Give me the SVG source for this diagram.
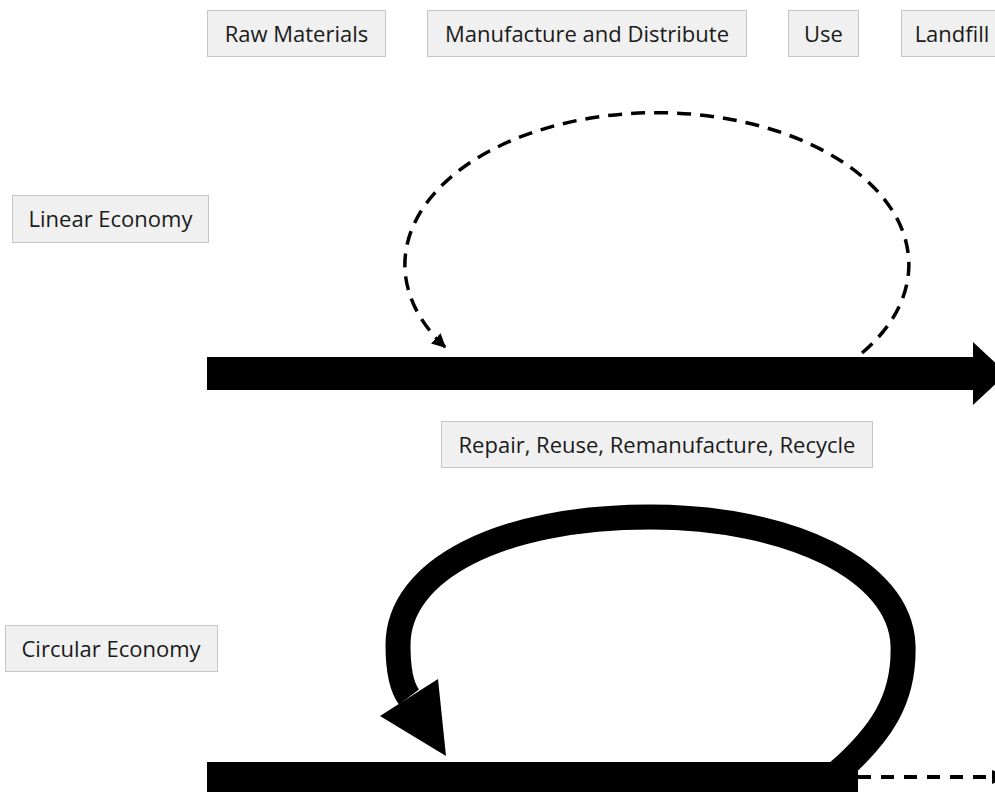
<svg xmlns="http://www.w3.org/2000/svg" width="995" height="792" viewBox="0 0 995 792">
  <style>
    .box rect { fill: #f0f0f0; stroke: #c6c6c6; stroke-width: 1; }
    .box text { font-family: "Open Sans", "Noto Sans", sans-serif; font-size: 22px; fill: #1a1a1a; text-anchor: middle; }
    .dash { fill: none; stroke: #000; stroke-width: 3.5; stroke-dasharray: 14 9; }
  </style>
  <defs>
    <marker id="smallHead" viewBox="0 0 10 10" refX="9" refY="5" markerWidth="4" markerHeight="4" markerUnits="strokeWidth" orient="auto">
      <path d="M0,0 L10,5 L0,10 Z" fill="#000"/>
    </marker>
  </defs>

  <rect width="995" height="792" fill="#fff"/>

  <!-- stage headers -->
  <g id="raw-materials" class="box">
    <rect x="207.5" y="10.5" width="178" height="46"/>
    <text x="296.5" y="42">Raw Materials</text>
  </g>
  <g id="manufacture" class="box">
    <rect x="427.5" y="10.5" width="319" height="46"/>
    <text x="587" y="42">Manufacture and Distribute</text>
  </g>
  <g id="use" class="box">
    <rect x="788.5" y="10.5" width="70" height="46"/>
    <text x="823.5" y="42">Use</text>
  </g>
  <g id="landfill" class="box">
    <rect x="901.5" y="10.5" width="102" height="46"/>
    <text x="952" y="42">Landfill</text>
  </g>

  <!-- row labels -->
  <g id="linear-economy" class="box">
    <rect x="12.5" y="195.5" width="196" height="47"/>
    <text x="110.5" y="227">Linear Economy</text>
  </g>
  <g id="repair-reuse" class="box">
    <rect x="441.5" y="421.5" width="431" height="46"/>
    <text x="657" y="453">Repair, Reuse, Remanufacture, Recycle</text>
  </g>
  <g id="circular-economy" class="box">
    <rect x="5.5" y="625.5" width="212" height="46"/>
    <text x="111" y="657">Circular Economy</text>
  </g>

  <g id="connectors">
    <!-- linear flow: thick arrow to landfill -->
    <rect x="207" y="357" width="767" height="33" fill="#000"/>
    <polygon points="973,342 1007,373.5 973,405" fill="#000"/>
    <!-- occasional loop back (dashed) -->
    <path class="dash" d="M862,353 A252,152 0 1 0 445,347" marker-end="url(#smallHead)"/>

    <!-- circular flow: main bar -->
    <rect x="207" y="762" width="651" height="40" fill="#000"/>
    <!-- big loop returning to the start -->
    <path d="M838,772 C880,735 905,700 903,645 C900,570 790,517 650,517 C500,517 398,570 398,645 C398,665 400,685 409,697"
          fill="none" stroke="#000" stroke-width="25"/>
    <polygon points="380,716 438,679 446,756" fill="#000"/>
    <!-- small residual flow out to landfill -->
    <path d="M858,777 L992,777" fill="none" stroke="#000" stroke-width="4" stroke-dasharray="13 10"/>
    <polygon points="992,770 1010,777 992,784" fill="#000"/>
  </g>
</svg>
